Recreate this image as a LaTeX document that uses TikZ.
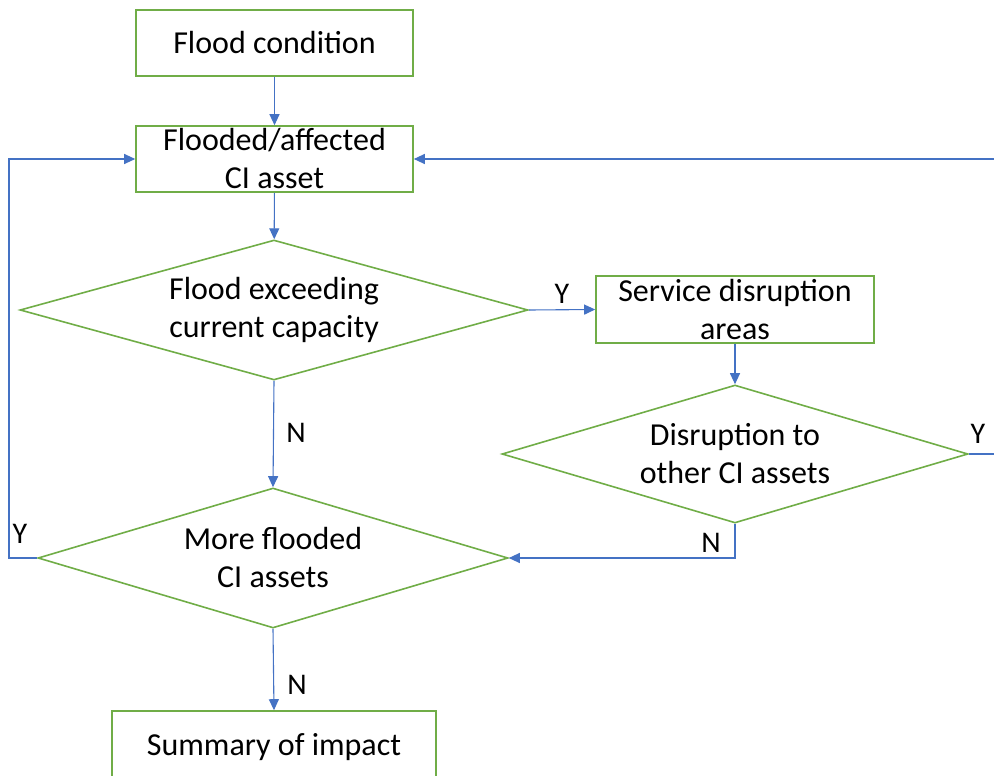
\documentclass[tikz,border=0pt]{standalone}
\usepackage{fontspec}
\setmainfont{Carlito}
\usetikzlibrary{shapes.geometric,arrows.meta}
\definecolor{boxgreen}{HTML}{70AD47}
\definecolor{lineblue}{HTML}{4472C4}
\tikzset{
  base/.style={draw=boxgreen, line width=1.6pt, align=center, font=\fontsize{32}{38}\selectfont, inner sep=0pt},
  procbox/.style={base, rectangle, minimum width=277pt, minimum height=66pt},
  decision/.style={base, diamond},
  conn/.style={draw=lineblue, line width=1.1pt, -{Triangle[length=11pt,width=10pt]}, color=lineblue},
  plain/.style={draw=lineblue, line width=1.1pt},
  lbl/.style={font=\fontsize{30}{36}\selectfont, inner sep=0pt}
}
\begin{document}
\begin{tikzpicture}[x=1pt,y=-1pt]
\useasboundingbox (0,0) rectangle (994,776);
\clip (0,0) rectangle (994,776);
\node[procbox] (fc) at (274.5,43) {Flood condition};
\node[procbox] (fa) at (274.5,159) {Flooded/affected\\CI asset};
\node[decision, minimum width=508pt, minimum height=140pt, aspect=3.63] (d1) at (274,310) {Flood exceeding\\current capacity};
\node[procbox, minimum width=278pt, minimum height=67pt] (sd) at (735,309.5) {Service disruption\\areas};
\node[decision, minimum width=466pt, minimum height=138pt, aspect=3.38] (d2) at (735,454) {Disruption to\\other CI assets};
\node[decision, minimum width=470pt, minimum height=140pt, aspect=3.36] (d3) at (273,558) {More flooded\\CI assets};
\node[procbox, minimum width=324pt, minimum height=72pt] (si) at (274,747) {Summary of impact};
\coordinate (rt) at (1005,454);
\coordinate (lt) at (9,558);
\coordinate (br) at (735,558);

\draw[conn] (fc) -- (fa);
\draw[conn] (fa) -- (d1);
\draw[conn] (d1.east) -- (sd.west);
\draw[conn] (sd) -- (d2);
\draw[conn] (d1.south) -- (d3.north);
\draw[conn] (d3.south) -- (si.north);
\draw[conn] (d2.south) |- (d3.east);
\draw[conn] (d3.west) -- (lt) |- (fa.west);
\draw[conn] (d2.east) -- (rt) |- (fa.east);

\node[lbl] (y1) at (562,294) {Y};
\node[lbl] (n1) at (296,433) {N};
\node[lbl] (y2) at (978,434) {Y};
\node[lbl] (n2) at (711,543) {N};
\node[lbl] (y3) at (20,534) {Y};
\node[lbl] (n3) at (297,685) {N};
\end{tikzpicture}
\end{document}
